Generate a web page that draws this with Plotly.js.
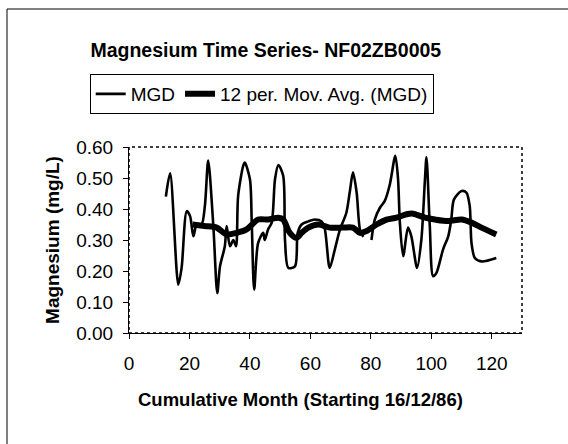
<!DOCTYPE html>
<html>
<head>
<meta charset="utf-8">
<script src="https://cdn.plot.ly/plotly-3.0.1.min.js"></script>
<style>
html,body{margin:0;padding:0;background:#fff;}
#chart{width:568px;height:444px;}
</style>
</head>
<body>
<div id="chart"></div>
<script>
// MGD series (cumulative month, mg/L); null marks a gap in the record
const mgdMonth = [12.2,13.6,16.3,17.4,19.1,20.2,21.3,22.4,24,25.1,26.2,27.9,29.2,30.1,31.7,32.3,33.4,34.5,35.4,36.1,37.8,38.3,40,40.6,41.4,42.7,44.4,44.9,46,47.2,48.3,49.4,51,51.6,52.7,54.9,55.8,57.1,59.3,61.5,63.7,64.8,66.4,68.1,69.8,71.9,73,74.1,75.3,76.4,77.5,79,80.2,81.3,83,84.6,86.3,88.1,89,89.6,90.7,92.3,93.4,95.3,96.7,97.9,98.4,99.5,100.6,101.7,103.9,105.6,106.6,107.5,110,111.6,112.7,113.3,114.4,116.6,121.5];
const mgdValue = [0.44,0.515,0.156,0.21,0.393,0.377,0.312,0.35,0.35,0.41,0.556,0.345,0.129,0.215,0.28,0.345,0.28,0.30,0.28,0.442,0.54,0.55,0.496,0.357,0.14,0.29,0.323,0.30,0.334,0.356,0.496,0.542,0.507,0.30,0.21,0.215,0.323,0.35,0.36,0.366,0.36,0.334,0.21,0.27,0.334,0.388,0.453,0.518,0.453,0.334,0.31,null,0.30,0.366,0.404,0.426,0.48,0.572,0.496,0.356,0.248,0.34,0.312,0.21,0.30,0.496,0.567,0.345,0.183,0.194,0.27,0.312,0.366,0.431,0.458,0.453,0.41,0.29,0.242,0.231,0.242];
// 12 period moving average of MGD
const maMonth = [21,25,29,32.3,35.6,38.9,42.7,46,49.4,51,53.2,55.4,57.1,59.3,62.6,66.4,70.8,74.1,76.4,78.6,81.9,85.2,88.5,91.8,94,97.9,101.2,105.6,110,113.3,116.6,121.5];
const maValue = [0.35,0.345,0.34,0.318,0.323,0.334,0.366,0.366,0.372,0.366,0.323,0.307,0.323,0.34,0.35,0.34,0.34,0.34,0.323,0.329,0.35,0.366,0.372,0.383,0.385,0.372,0.366,0.361,0.366,0.356,0.34,0.318];
const xTicks = [0,20,40,60,80,100,120];
const yTicks = [0,0.1,0.2,0.3,0.4,0.5,0.6];

const FONT = 'Arial, "Liberation Sans", sans-serif';

const traces = [
  {x: mgdMonth, y: mgdValue, name: 'MGD', type: 'scatter', mode: 'lines',
   line: {color: '#000', width: 2.6, shape: 'spline', smoothing: 0.8}, connectgaps: false},
  {x: maMonth, y: maValue, name: '12 per. Mov. Avg. (MGD)', type: 'scatter', mode: 'lines',
   line: {color: '#000', width: 6, shape: 'spline', smoothing: 0.8}}
];

const layout = {
  width: 568, height: 444,
  margin: {l: 129, r: 46, t: 147, b: 111},
  paper_bgcolor: '#fff', plot_bgcolor: '#fff',
  font: {family: FONT, color: '#000', size: 19},
  showlegend: true,
  title: {text: 'Magnesium Time Series- NF02ZB0005', x: 0.468, xanchor: 'center', y: 0.887, yanchor: 'middle',
          font: {family: FONT, size: 19.5, weight: 'bold', color: '#000'}},
  legend: {orientation: 'h', x: -0.1, xanchor: 'left', y: 1.285, yanchor: 'middle',
           bordercolor: '#000', borderwidth: 1, bgcolor: '#fff',
           font: {family: FONT, size: 19, color: '#000'}, itemwidth: 30, tracegroupgap: 0},
  xaxis: {range: [0, 130], tickvals: xTicks, ticktext: xTicks.map(String),
          showgrid: false, zeroline: false, showline: true, linecolor: '#000', linewidth: 1,
          ticks: 'outside', ticklen: 5, tickcolor: '#000', ticklabelstandoff: 8,
          tickfont: {family: FONT, size: 19, color: '#000'}},
  yaxis: {range: [0, 0.6], tickvals: yTicks, ticktext: yTicks.map(v => v.toFixed(2)),
          showgrid: false, zeroline: false, showline: true, linecolor: '#000', linewidth: 1,
          ticks: 'outside', ticklen: 5, tickcolor: '#000', ticklabelstandoff: 6,
          tickfont: {family: FONT, size: 19, color: '#000'},
          title: {text: 'Magnesium (mg/L)', standoff: 11, font: {family: FONT, size: 19, weight: 'bold', color: '#000'}}},
  annotations: [
    {text: 'Cumulative Month (Starting 16/12/86)', xref: 'paper', yref: 'paper',
     x: (300 - 129) / 393, y: (333 - 399) / 186, xanchor: 'center', yanchor: 'middle', showarrow: false,
     font: {family: FONT, size: 18.5, weight: 'bold', color: '#000'}}
  ],
  shapes: [
    {type: 'rect', xref: 'paper', yref: 'paper', x0: 0, x1: 1, y0: 0, y1: 1,
     line: {color: '#000', width: 1.5, dash: 'dot'}, layer: 'below'},
    {type: 'rect', xref: 'paper', yref: 'paper', x0: (7 - 129) / 393, x1: (570 - 129) / 393,
     y0: (333 - 446) / 186, y1: (333 - 9) / 186, line: {color: '#000', width: 1}}
  ]
};

Plotly.newPlot('chart', traces, layout, {displayModeBar: false, staticPlot: true});
</script>
</body>
</html>
